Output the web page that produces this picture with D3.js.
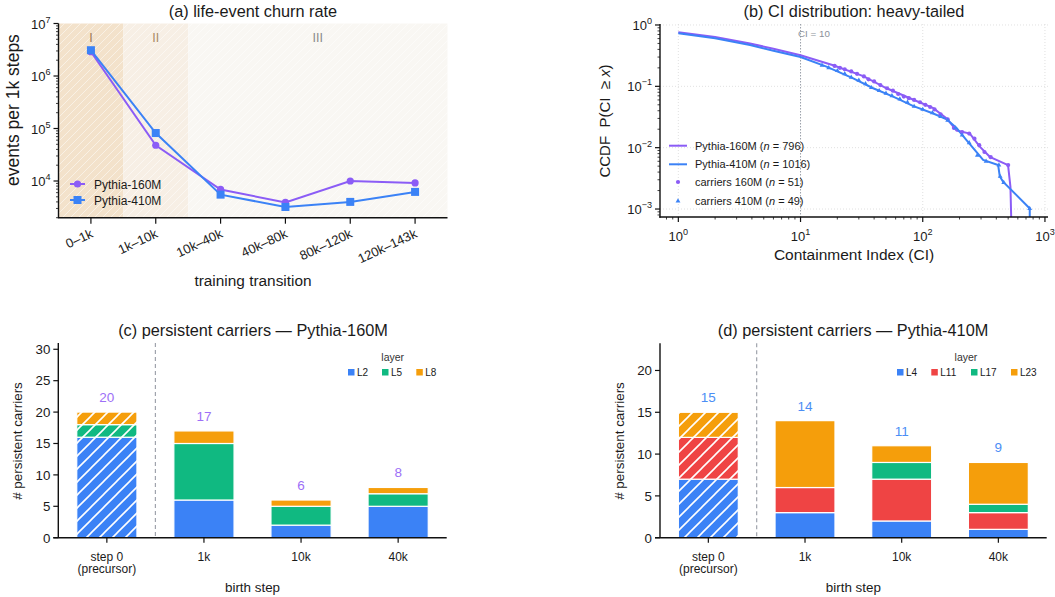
<!DOCTYPE html>
<html><head><meta charset="utf-8">
<script src="https://cdn.jsdelivr.net/npm/d3@7"></script>
<style>body{margin:0;background:#fff} text{font-family:"Liberation Sans",Arial,Helvetica,sans-serif;fill:#1a1a1a}</style>
</head><body><svg id="chart" width="1055" height="597"></svg>
<script>
// ---------- DATA ----------
const transitions = ["0–1k","1k–10k","10k–40k","40k–80k","80k–120k","120k–143k"];
const churn160 = [2.9e6, 4.8e4, 6.9e3, 3.9e3, 1.0e4, 9.2e3];
const churn410 = [3.1e6, 8.2e4, 5.5e3, 3.2e3, 4.0e3, 6.2e3];
const phaseLabels = ["I","II","III"];
const phaseStart = [0, 1, 2];   // first transition index in each phase
const phaseEnd = [0, 1, 5];     // last transition index in each phase

const ccdf160CI = [1, 2, 3.86, 6, 10, 18.5, 32.6, 50.6, 83, 122, 157, 189, 243, 293, 354, 499, 522, 532];
const ccdf160P  = [0.76, 0.64, 0.50, 0.41, 0.32, 0.22, 0.147, 0.093, 0.061, 0.044, 0.030, 0.019, 0.017, 0.0104, 0.0071, 0.0052, 0.0023, 0.0005];
const ccdf410CI = [1, 2, 3.86, 6, 10, 16.3, 27, 39.3, 57.3, 83, 122, 157, 189, 228, 312, 414, 427, 454, 751, 751];
const ccdf410P  = [0.73, 0.61, 0.47, 0.38, 0.30, 0.21, 0.135, 0.093, 0.068, 0.048, 0.036, 0.029, 0.021, 0.0133, 0.0063, 0.0052, 0.0034, 0.0028, 0.00102, 0.0005];
const carr160CI = [19,21,23,26,29,33,36,40,45,51,57,63,70,77,85,95,105,115,125,140,160,180,210,240,265,290,320,360,500];
const carr160P  = [0.215,0.2,0.19,0.175,0.16,0.145,0.13,0.12,0.105,0.093,0.085,0.075,0.068,0.064,0.06,0.055,0.05,0.046,0.042,0.035,0.029,0.021,0.018,0.017,0.014,0.011,0.0085,0.007,0.0052];
const carr410CI = [15,17,20,23,26,30,34,38,44,50,56,65,75,85,100,120,140,160,185,210,240,280,330,420,430,460,750];
const carr410P  = [0.22,0.2,0.18,0.16,0.14,0.125,0.11,0.095,0.085,0.077,0.07,0.062,0.055,0.047,0.042,0.037,0.032,0.028,0.021,0.016,0.012,0.0075,0.006,0.0052,0.0034,0.0027,0.00102];
const legendB = [["Pythia-160M", "796"], ["Pythia-410M", "1016"], ["carriers 160M", "51"], ["carriers 410M", "49"]];

const birthSteps = ["step 0\n(precursor)", "1k", "10k", "40k"];
const layers160 = ["L2","L5","L8"];
const stack160 = { L2:[16,6,2,5], L5:[2,9,3,2], L8:[2,2,1,1] };
const layers410 = ["L4","L11","L17","L23"];
const stack410 = { L4:[7,3,2,1], L11:[5,3,5,2], L17:[0,0,2,1], L23:[3,8,2,5] };

// ---------- STYLE ----------
const C = {blue:"#3b82f6", purple:"#8b5cf6", green:"#10b981", orange:"#f59e0b", red:"#ef4444"};
const layerColor = {L2:C.blue, L5:C.green, L8:C.orange, L4:C.blue, L11:C.red, L17:C.green, L23:C.orange};
const TITLE = 16.3;
const svg = d3.select("#chart");
const defs = svg.append("defs");
function hatch(id, size, sw, op){
  defs.append("pattern").attr("id",id).attr("patternUnits","userSpaceOnUse").attr("width",size).attr("height",size)
    .append("path").attr("d",`M${-size/4},${size/4} l${size/2},${-size/2} M0,${size} l${size},${-size} M${size*0.75},${size*1.25} l${size/2},${-size/2}`)
    .attr("stroke","#fff").attr("stroke-width",sw).attr("stroke-opacity",op);
}
hatch("hA", 8, 1, 0.5);
hatch("hB", 13, 1.6, 1);

function sup(sel, base, exp, size){
  sel.text(null);
  sel.append("tspan").text(base);
  sel.append("tspan").attr("dy",-size*0.45).attr("font-size",size*0.7).text(exp);
}
function spine(g, x1,y1,x2,y2){ g.append("line").attr("x1",x1).attr("y1",y1).attr("x2",x2).attr("y2",y2).attr("stroke","#111").attr("stroke-width",1.4); }

// ================= PANEL A =================
(function(){
  const L=58.5,R=447.5,T=23.5,B=217.7;
  const g = svg.append("g");
  const x = d3.scalePoint().domain(transitions).range([L,R]).padding(0.5);
  const step = x.step();
  const y = d3.scaleLog().domain([2000,1e7]).range([B,T]);
  const phaseFill = ["#f3e2cb","#f7efe5","#f9f7f3"];
  const phaseText = ["#9c7a55","#a88a66","#8a8a8a"];
  phaseLabels.forEach((p,i)=>{
    const x0 = Math.max(L, x(transitions[phaseStart[i]])-step/2), x1 = Math.min(R, x(transitions[phaseEnd[i]])+step/2);
    g.append("rect").attr("x",x0).attr("y",T).attr("width",x1-x0).attr("height",B-T).attr("fill",phaseFill[i]);
    g.append("rect").attr("x",x0).attr("y",T).attr("width",x1-x0).attr("height",B-T).attr("fill","url(#hA)");
    g.append("text").attr("x",(x0+x1)/2).attr("y",42).attr("text-anchor","middle").attr("font-size",12.5).style("fill",phaseText[i]).text(p);
  });
  const line = d3.line().x((d,i)=>x(transitions[i])).y(d=>y(d));
  g.append("path").attr("d",line(churn160)).attr("fill","none").attr("stroke",C.purple).attr("stroke-width",2);
  g.append("path").attr("d",line(churn410)).attr("fill","none").attr("stroke",C.blue).attr("stroke-width",2);
  g.selectAll(".m1").data(churn160).join("circle").attr("cx",(d,i)=>x(transitions[i])).attr("cy",d=>y(d)).attr("r",3.6).attr("fill",C.purple);
  g.selectAll(".m2").data(churn410).join("rect").attr("x",(d,i)=>x(transitions[i])-4).attr("y",d=>y(d)-4).attr("width",8).attr("height",8).attr("fill",C.blue);
  // axes
  spine(g,L,T,L,B); spine(g,L-0.7,B,R,B);
  y.ticks().forEach(v=>{
    const e = Math.log10(v), major = Math.abs(e-Math.round(e))<1e-9;
    g.append("line").attr("x1",L).attr("x2",L-(major?5:2.5)).attr("y1",y(v)).attr("y2",y(v)).attr("stroke","#111").attr("stroke-width",major?1.2:0.8);
    if(major){ const t=g.append("text").attr("x",L-8).attr("y",y(v)+5).attr("text-anchor","end").attr("font-size",13); sup(t,"10",Math.round(e),13); }
  });
  transitions.forEach(t=>{
    g.append("line").attr("x1",x(t)).attr("x2",x(t)).attr("y1",B).attr("y2",B+6).attr("stroke","#111").attr("stroke-width",1.2);
    g.append("text").attr("x",x(t)+3).attr("y",B+19).attr("text-anchor","end").attr("font-size",13).attr("transform",`rotate(-25,${x(t)+3},${B+19})`).text(t);
  });
  g.append("text").attr("x",253).attr("y",17).attr("text-anchor","middle").attr("font-size",TITLE).text("(a) life-event churn rate");
  g.append("text").attr("x",253).attr("y",286).attr("text-anchor","middle").attr("font-size",15.4).text("training transition");
  g.append("text").attr("transform","translate(19,110) rotate(-90)").attr("text-anchor","middle").attr("font-size",17.5).text("events per 1k steps");
  // legend
  [["Pythia-160M",C.purple,"c"],["Pythia-410M",C.blue,"s"]].forEach((d,i)=>{
    const yy = 184+i*16;
    g.append("line").attr("x1",70).attr("x2",85).attr("y1",yy).attr("y2",yy).attr("stroke",d[1]).attr("stroke-width",2);
    if(d[2]==="c") g.append("circle").attr("cx",77.5).attr("cy",yy).attr("r",3.6).attr("fill",d[1]);
    else g.append("rect").attr("x",73.5).attr("y",yy-4).attr("width",8).attr("height",8).attr("fill",d[1]);
    g.append("text").attr("x",94).attr("y",yy+4.5).attr("font-size",12).text(d[0]);
  });
})();

// ================= PANEL B =================
(function(){
  const L=660,R=1048,T=24,B=217;
  const g = svg.append("g");
  const x = d3.scaleLog().domain([Math.pow(10,-0.15),Math.pow(10,3.025)]).range([L,R]);
  const y = d3.scaleLog().domain([Math.pow(10,-3.13),Math.pow(10,0.016)]).range([B,T]);
  defs.append("clipPath").attr("id","clipB").append("rect").attr("x",L).attr("y",T-2).attr("width",R-L).attr("height",B-T+2);
  [1,10,100,1000].forEach(v=>g.append("line").attr("x1",x(v)).attr("x2",x(v)).attr("y1",T).attr("y2",B).attr("stroke","#d8d8d8").attr("stroke-width",0.8).attr("stroke-dasharray","1,2"));
  [1,0.1,0.01,0.001].forEach(v=>g.append("line").attr("x1",L).attr("x2",R).attr("y1",y(v)).attr("y2",y(v)).attr("stroke","#d8d8d8").attr("stroke-width",0.8).attr("stroke-dasharray","1,2"));
  g.append("line").attr("x1",x(10)).attr("x2",x(10)).attr("y1",T).attr("y2",B).attr("stroke","#9aa0aa").attr("stroke-width",1).attr("stroke-dasharray","1.5,1.5");
  g.append("text").attr("x",x(10)-2.5).attr("y",37).attr("font-size",9.8).style("fill","#8a8f99").text("CI = 10");
  const cg = g.append("g").attr("clip-path","url(#clipB)");
  const ln = (xs,ps)=>d3.line().x((d,i)=>x(xs[i])).y(d=>y(d))(ps);
  cg.append("path").attr("d",ln(ccdf160CI,ccdf160P)).attr("fill","none").attr("stroke",C.purple).attr("stroke-width",2);
  cg.append("path").attr("d",ln(ccdf410CI,ccdf410P)).attr("fill","none").attr("stroke",C.blue).attr("stroke-width",2);
  cg.selectAll(".c1").data(carr160P).join("circle").attr("cx",(d,i)=>x(carr160CI[i])).attr("cy",d=>y(d)).attr("r",2.1).attr("fill",C.purple);
  const tri = d3.symbol().type(d3.symbolTriangle).size(10);
  cg.selectAll(".c2").data(carr410P).join("path").attr("d",tri).attr("transform",(d,i)=>`translate(${x(carr410CI[i])},${y(d)})`).attr("fill",C.blue);
  spine(g,L,T,L,B+0.7); spine(g,L-0.7,B,R,B);
  x.ticks().forEach(v=>{
    const e=Math.log10(v), major=Math.abs(e-Math.round(e))<1e-9;
    g.append("line").attr("x1",x(v)).attr("x2",x(v)).attr("y1",B).attr("y2",B+(major?5:2.5)).attr("stroke","#111").attr("stroke-width",major?1.2:0.8);
    if(major){ const t=g.append("text").attr("x",x(v)).attr("y",B+24).attr("text-anchor","middle").attr("font-size",13); sup(t,"10",Math.round(e),13); }
  });
  y.ticks().forEach(v=>{
    const e=Math.log10(v), major=Math.abs(e-Math.round(e))<1e-9;
    g.append("line").attr("x1",L).attr("x2",L-(major?5:2.5)).attr("y1",y(v)).attr("y2",y(v)).attr("stroke","#111").attr("stroke-width",major?1.2:0.8);
    if(major){ const t=g.append("text").attr("x",L-8).attr("y",y(v)+5).attr("text-anchor","end").attr("font-size",13); sup(t,"10",Math.round(e)===0?"0":"−"+Math.abs(Math.round(e)),13); }
  });
  g.append("text").attr("x",854).attr("y",17).attr("text-anchor","middle").attr("font-size",TITLE).text("(b) CI distribution: heavy-tailed");
  g.append("text").attr("x",854).attr("y",260).attr("text-anchor","middle").attr("font-size",15.5).text("Containment Index (CI)");
  const yl = g.append("text").attr("transform","translate(610,121) rotate(-90)").attr("text-anchor","middle").attr("font-size",15).attr("xml:space","preserve");
  yl.append("tspan").text("CCDF  P(CI  ≥ ");
  yl.append("tspan").attr("font-style","italic").text("x");
  yl.append("tspan").text(")");
  legendB.forEach((d,i)=>{
    const yy=[145.7,164.3,182,201][i];
    const col = i%2===0?C.purple:C.blue;
    if(i<2) g.append("line").attr("x1",669).attr("x2",687).attr("y1",yy).attr("y2",yy).attr("stroke",col).attr("stroke-width",2);
    else if(i===2) g.append("circle").attr("cx",678).attr("cy",yy).attr("r",2.1).attr("fill",col);
    else g.append("path").attr("d",tri).attr("transform",`translate(678,${yy})`).attr("fill",col);
    const t=g.append("text").attr("x",695).attr("y",yy+4).attr("font-size",11);
    t.append("tspan").text(d[0]+" (");
    t.append("tspan").attr("font-style","italic").text("n");
    t.append("tspan").text(" = "+d[1]+")");
  });
})();

// ================= PANELS C & D =================
function barPanel(o){
  const {L,R,T,B,ymax,ticks,layers,stack,totalColor,title,tcx,legX,legTitleX} = o;
  const g = svg.append("g");
  const x = d3.scaleBand().domain(birthSteps).range([L,R]).paddingInner(0.38).paddingOuter(0.19);
  const y = d3.scaleLinear().domain([0,ymax]).range([B,T]);
  const series = d3.stack().keys(layers)(birthSteps.map((s,i)=>{const r={step:s}; layers.forEach(l=>r[l]=stack[l][i]); return r;}));
  series.forEach(sr=>{
    sr.forEach((d,i)=>{
      if(d[1]-d[0]<=0) return;
      const bx=x(birthSteps[i]), bw=x.bandwidth();
      g.append("rect").attr("x",bx).attr("y",y(d[1])).attr("width",bw).attr("height",y(d[0])-y(d[1])).attr("fill",layerColor[sr.key]).attr("stroke","#fff").attr("stroke-width",1.2);
      if(i===0) g.append("rect").attr("x",bx).attr("y",y(d[1])).attr("width",bw).attr("height",y(d[0])-y(d[1])).attr("fill","url(#hB)");
    });
  });
  birthSteps.forEach((s,i)=>{
    const tot = d3.sum(layers,l=>stack[l][i]);
    g.append("text").attr("x",x(s)+x.bandwidth()/2).attr("y",y(tot)-10).attr("text-anchor","middle").attr("font-size",13.5).style("fill",totalColor).text(tot);
  });
  const mid = (x(birthSteps[0])+x(birthSteps[1])+x.bandwidth())/2;
  g.append("line").attr("x1",mid).attr("x2",mid).attr("y1",T).attr("y2",B).attr("stroke","#a0a4ad").attr("stroke-width",1.2).attr("stroke-dasharray","4,3");
  spine(g,L,T,L,B); spine(g,L-5,B,R,B);
  ticks.forEach(v=>{
    g.append("line").attr("x1",L).attr("x2",L-5).attr("y1",y(v)).attr("y2",y(v)).attr("stroke","#111").attr("stroke-width",1.2);
    g.append("text").attr("x",L-8).attr("y",y(v)+4.8).attr("text-anchor","end").attr("font-size",13.3).text(v);
  });
  birthSteps.forEach(s=>{
    const cx = x(s)+x.bandwidth()/2;
    g.append("line").attr("x1",cx).attr("x2",cx).attr("y1",B).attr("y2",B+5).attr("stroke","#111").attr("stroke-width",1.2);
    s.split("\n").forEach((ln,k)=>g.append("text").attr("x",cx).attr("y",560.5+k*12.3).attr("text-anchor","middle").attr("font-size",12).text(ln));
  });
  g.append("text").attr("x",tcx).attr("y",336).attr("text-anchor","middle").attr("font-size",TITLE).text(title);
  g.append("text").attr("x",(L+R)/2).attr("y",592).attr("text-anchor","middle").attr("font-size",13.4).text("birth step");
  g.append("text").attr("transform",`translate(${L-36},441) rotate(-90)`).attr("text-anchor","middle").attr("font-size",13.4).text("# persistent carriers");
  g.append("text").attr("x",legTitleX).attr("y",361).attr("text-anchor","middle").attr("font-size",10.5).style("fill","#333").text("layer");
  layers.forEach((l,i)=>{
    g.append("rect").attr("x",legX[i]-3).attr("y",369).attr("width",6.5).attr("height",6.5).attr("fill",layerColor[l]);
    g.append("text").attr("x",legX[i]+6).attr("y",376.3).attr("font-size",10).text(l);
  });
}
barPanel({L:58.3,R:446.7,T:343,B:537.7,ymax:31,ticks:[0,5,10,15,20,25,30],layers:layers160,stack:stack160,totalColor:"#9d6ff7",
  title:"(c) persistent carriers — Pythia-160M",tcx:253,legX:[351,385,419.3],legTitleX:392.7});
barPanel({L:660,R:1046.7,T:343.3,B:537.7,ymax:23.25,ticks:[0,5,10,15,20],layers:layers410,stack:stack410,totalColor:"#4b8ef5",
  title:"(d) persistent carriers — Pythia-410M",tcx:853,legX:[900,934.3,974,1014],legTitleX:966});
</script></body></html>
